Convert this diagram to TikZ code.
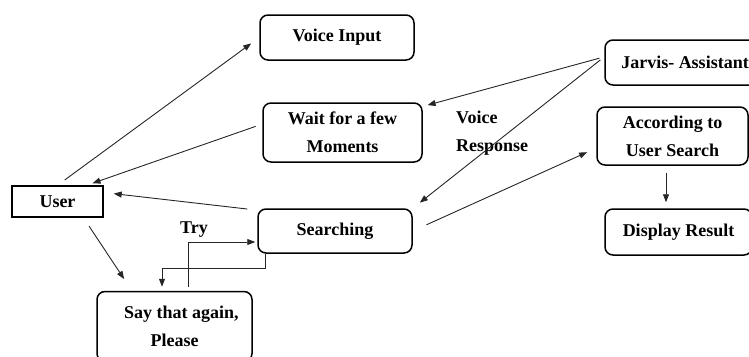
\documentclass[tikz,border=0pt]{standalone}
\usepackage{fontspec}
\setmainfont{Liberation Serif}
\usetikzlibrary{arrows.meta,calc}
\tikzset{
  box/.style={draw, line width=1.5pt, rounded corners=8pt, inner sep=0pt, align=center,
    font=\fontsize{18}{28}\selectfont\bfseries},
  sharpbox/.style={draw, line width=1.5pt, inner sep=0pt, align=center,
    font=\fontsize{18}{28}\selectfont\bfseries},
  lbl/.style={inner sep=0pt, font=\fontsize{18}{28}\selectfont\bfseries},
  arr/.style={-{Triangle[length=8pt,width=6pt]}, line width=0.9pt, draw=black!85},
  plain/.style={line width=0.9pt, draw=black!85}
}
\begin{document}
\begin{tikzpicture}[x=1pt,y=-1pt]
\useasboundingbox (0,0) rectangle (749,356);
\node[box, minimum width=154pt, minimum height=45pt] (voice) at (337,37.5) {Voice Input};
\node[box, minimum width=159pt, minimum height=59pt] (wait) at (342.5,132.5) {Wait for a few\\Moments};
\node[box, minimum width=160pt, minimum height=45pt] (jarvis) at (685,62.5) {Jarvis- Assistant};
\node[box, minimum width=151pt, minimum height=58pt] (according) at (672.5,136) {According to\\User Search};
\node[box, minimum width=147pt, minimum height=46pt] (display) at (678.5,232) {Display Result};
\node[box, minimum width=154pt, minimum height=44pt] (searching) at (335,231) {Searching};
\node[sharpbox, minimum width=91pt, minimum height=31pt] (user) at (57.5,201.5) {User};
\node[box, minimum width=155pt, minimum height=70pt] (say) at (174.5,326.5) {\hspace*{14pt}Say that again,\\Please};
\node[lbl, anchor=west, align=left] (vr) at (456,133) {Voice\\Response};
\node[lbl] (try) at (194,230) {Try};

\draw[arr, shorten <=9pt, shorten >=10pt] (user.north) -- (voice.west);
\draw[arr, shorten <=7pt, shorten >=6pt] (wait.174) -- (user.29);
\draw[arr, shorten <=5pt, shorten >=5pt] (jarvis.176) -- (wait.18);
\draw[arr, shorten <=5pt, shorten >=9pt] (jarvis.176) -- (searching.north east);
\draw[arr, shorten <=15pt, shorten >=10pt] (searching.east) -- (according.189);
\draw[arr, shorten <=10pt, shorten >=10pt] (searching.165) -- (user.11);
\draw[arr, shorten <=10pt, shorten >=14pt] (user.-32) -- (say.140);
\draw[arr, shorten <=7pt, shorten >=6pt] ([xshift=-6.5pt]according.south) -- ([xshift=-6.5pt]according.south |- display.north);
\draw[arr, shorten <=3.5pt, shorten >=2pt] ([xshift=13.5pt]say.north) |- ([yshift=-11pt]searching.west);
\draw[arr, shorten >=4pt] ([xshift=-70pt]searching.south) -- ++(0,15) -| ([xshift=-12.5pt]say.north);
\end{tikzpicture}
\end{document}
